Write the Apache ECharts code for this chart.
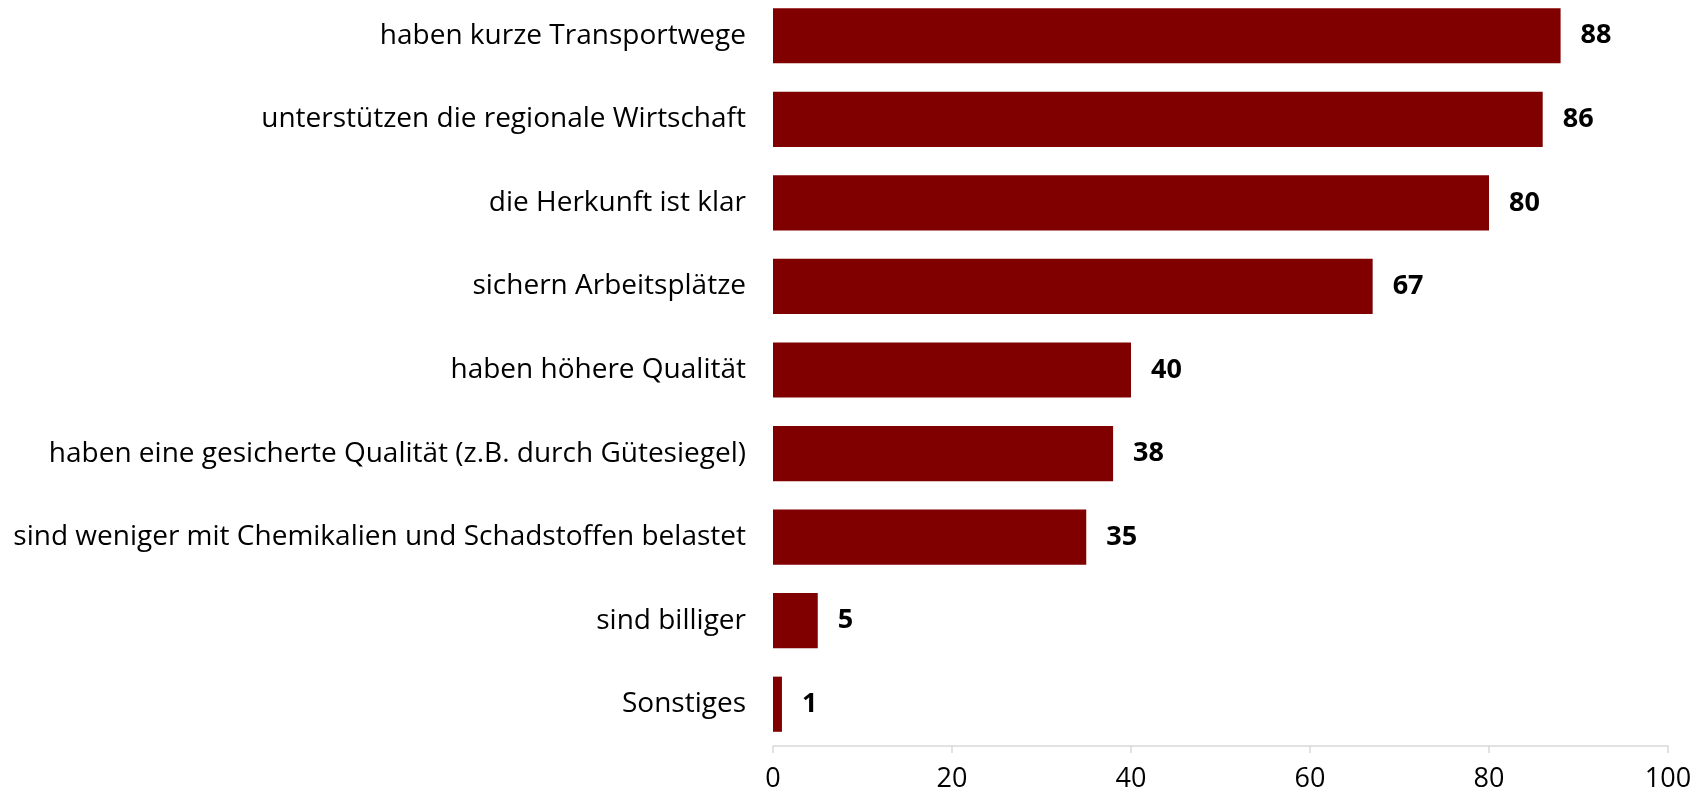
<!DOCTYPE html>
<html>
<head>
<meta charset="utf-8">
<script src="https://cdn.jsdelivr.net/npm/echarts@6/dist/echarts.min.js"></script>
<style>
  html, body { margin: 0; padding: 0; background: #fff; overflow: hidden; }
  /* chart box pushed up a little so the first bar sits near the top edge */
  #chart { position: relative; top: -8px; width: 1705px; height: 797px; }
</style>
</head>
<body>
<div id="chart"></div>
<script>
// categories from top to bottom
var categories = [
  'haben kurze Transportwege',
  'unterstützen die regionale Wirtschaft',
  'die Herkunft ist klar',
  'sichern Arbeitsplätze',
  'haben höhere Qualität',
  'haben eine gesicherte Qualität (z.B. durch Gütesiegel)',
  'sind weniger mit Chemikalien und Schadstoffen belastet',
  'sind billiger',
  'Sonstiges'
];
var values = [88, 86, 80, 67, 40, 38, 35, 5, 1];
var xTicks = [0, 20, 40, 60, 80, 100];

var myChart = echarts.init(document.getElementById('chart'));

var option = {
  animation: false,
  grid: {
    left: 773,
    right: 37,
    top: 2,
    bottom: 43,
    outerBoundsMode: 'none'
  },
  xAxis: {
    type: 'value',
    min: xTicks[0],
    max: xTicks[xTicks.length - 1],
    interval: 20,
    splitLine: { show: false },
    axisLine: { show: true, lineStyle: { color: '#d9d9d9', width: 1.5 } },
    axisTick: { show: true, length: 7, lineStyle: { color: '#d9d9d9', width: 1.5 } },
    axisLabel: {
      color: '#000',
      fontFamily: 'Open Sans',
      fontSize: 27,
      margin: 20
    }
  },
  yAxis: {
    type: 'category',
    inverse: true,
    data: categories,
    axisLine: { show: false },
    axisTick: { show: false },
    axisLabel: {
      color: '#000',
      fontFamily: 'Open Sans',
      fontSize: 28,
      margin: 27
    }
  },
  series: [{
    type: 'bar',
    data: values,
    barCategoryGap: '34%',
    itemStyle: { color: '#800000' },
    label: {
      show: true,
      position: 'right',
      distance: 20,
      color: '#000',
      fontFamily: 'Open Sans',
      fontWeight: 'bold',
      fontSize: 27
    }
  }]
};

myChart.setOption(option);
</script>
</body>
</html>
